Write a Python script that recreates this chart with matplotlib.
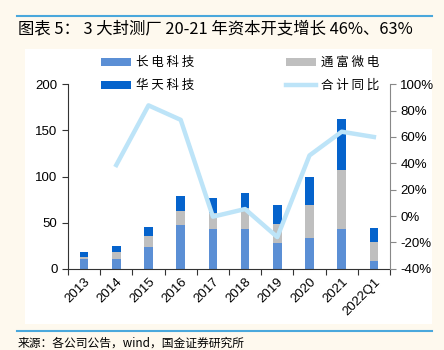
import numpy as np
import matplotlib.pyplot as plt
from matplotlib.patches import Rectangle
from matplotlib.lines import Line2D

plt.rcParams['font.family'] = ['Liberation Sans', 'Noto Sans CJK SC', 'DejaVu Sans']

# 数据（亿元）
years = ['2013', '2014', '2015', '2016', '2017', '2018', '2019', '2020', '2021', '2022Q1']
changdian = [11, 11, 23, 47.5, 42.7, 42.7, 28, 33.3, 42.7, 8.3]
tongfu = [2, 7, 13, 15, 17.3, 22.8, 21, 35.7, 64.3, 20.3]
huatian = [5, 6.6, 9.5, 16, 17, 17, 20, 30.5, 55, 15.2]
yoy = [np.nan, 38.7, 84, 73, -0.5, 5.3, -16, 46, 64, 60]

c_cd = '#5B8FD5'
c_tf = '#BFBFBF'
c_ht = '#0563CC'
c_line = '#BDE4F8'
c_rule = '#4AA8DC'
cjk = ['Noto Sans CJK SC', 'DejaVu Sans']

fig = plt.figure(figsize=(4.44, 3.5), dpi=100)
fig.patch.set_facecolor('#FEF9EE')

# 白色底板和上下蓝线
fig.add_artist(Rectangle((25/444, 1-324/350), (432-25)/444, (324-49)/350,
                         transform=fig.transFigure, facecolor='white', edgecolor='none', zorder=0))
fig.add_artist(Line2D([17/444, 432/444], [1-16/350, 1-16/350], transform=fig.transFigure,
                      color=c_rule, lw=1.5))
fig.add_artist(Line2D([17/444, 432/444], [1-331/350, 1-331/350], transform=fig.transFigure,
                      color=c_rule, lw=1.5))

fig.text(18/444, 1-29/350, '图表 5： 3 大封测厂 20-21 年资本开支增长 46%、63%',
         fontsize=11.8, fontweight='medium', family=cjk, va='center', ha='left')
fig.text(18/444, 1-343/350, '来源：各公司公告，wind，国金证券研究所',
         fontsize=8.5, family=cjk, va='center', ha='left')

ax = fig.add_axes([68/444, 1-268.7/350, (390-68)/444, (268.7-84.3)/350])
ax.set_facecolor('none')
x = np.arange(len(years))
w = 0.27
b1 = np.array(changdian)
b2 = b1 + np.array(tongfu)
ax.bar(x, changdian, w, color=c_cd, label='长 电 科 技', zorder=2)
ax.bar(x, tongfu, w, bottom=b1, color=c_tf, label='通 富 微 电', zorder=2)
ax.bar(x, huatian, w, bottom=b2, color=c_ht, label='华 天 科 技', zorder=2)

ax.set_xlim(-0.5, len(years) - 0.5)
ax.set_ylim(0, 200)
ax.set_yticks([0, 50, 100, 150, 200])
ax.set_xticks(np.arange(len(years) + 1) - 0.5)
ax.set_xticklabels([])
ax.set_xticks(x, minor=True)
ax.set_xticklabels(years, minor=True, rotation=45, ha='right', rotation_mode='anchor')
ax.tick_params(axis='x', which='major', direction='out', length=4, color='#333333')
ax.tick_params(axis='x', which='minor', length=0, pad=5, labelsize=9.5)
ax.tick_params(axis='y', direction='out', length=4, labelsize=9.5, color='#333333')
ax.spines['top'].set_visible(False)
ax.spines['right'].set_visible(False)
ax.spines['left'].set_color('#333333')
ax.spines['bottom'].set_color('#333333')

ax2 = ax.twinx()
ax2.plot(x, yoy, color=c_line, lw=3.2, label='合 计 同 比', zorder=3)
ax2.set_ylim(-40, 100)
ax2.set_yticks(np.arange(-40, 101, 20))
ax2.set_yticklabels([f'{v}%' for v in range(-40, 101, 20)])
ax2.tick_params(axis='y', direction='out', length=4, labelsize=9.5, color='#888888')
ax2.spines['top'].set_visible(False)
ax2.spines['left'].set_visible(False)
ax2.spines['bottom'].set_visible(False)
ax2.spines['right'].set_color('#888888')

h1, l1 = ax.get_legend_handles_labels()
h2, l2 = ax2.get_legend_handles_labels()
handles = [h1[0], h1[2], h1[1], h2[0]]
labels = [l1[0], l1[2], l1[1], l2[0]]
fig.legend(handles, labels, ncol=2, loc='upper left', bbox_to_anchor=(90/444, 1-45/350),
           frameon=False, handlelength=2.4, handleheight=0.7, handletextpad=0.4,
           columnspacing=7.3, labelspacing=0.8, prop={'family': cjk, 'size': 9})

fig.savefig('out.png', dpi=100, facecolor=fig.get_facecolor())
